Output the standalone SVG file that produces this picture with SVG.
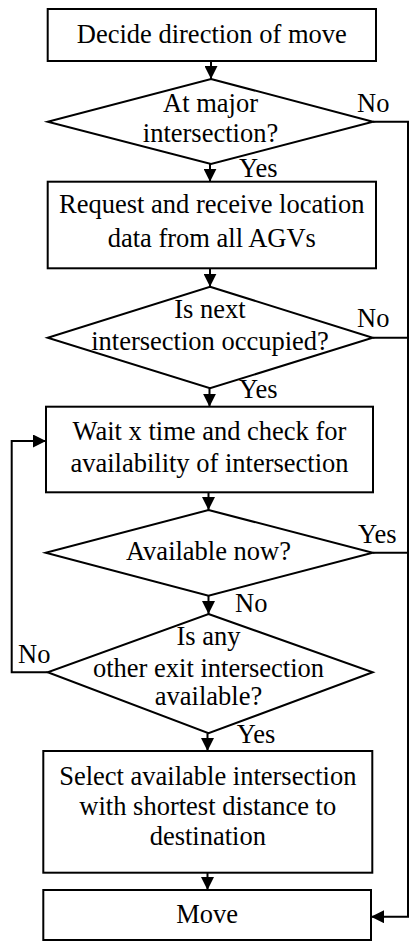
<svg xmlns="http://www.w3.org/2000/svg" width="411" height="943" viewBox="0 0 411 943">
<defs>
<marker id="ah" viewBox="0 0 10 10" refX="10" refY="5" markerWidth="6.5" markerHeight="6.5" markerUnits="strokeWidth" orient="auto">
<path d="M0,0 L10,5 L0,10 Z" fill="#000"/>
</marker>
<style>
.s{fill:#fff;stroke:#000;stroke-width:2}
.t{font-family:"Liberation Serif","Times New Roman",serif;font-size:26.5px;fill:#000;text-anchor:middle}
.l{font-family:"Liberation Serif","Times New Roman",serif;font-size:26.5px;fill:#000}
.c{fill:none;stroke:#000;stroke-width:2}
</style>
</defs>
<rect width="411" height="943" fill="#fff"/>
<g id="connectors">
<line class="c" x1="211" y1="61" x2="211" y2="79" marker-end="url(#ah)"/>
<line class="c" x1="210" y1="164" x2="210" y2="181.7" marker-end="url(#ah)"/>
<line class="c" x1="210" y1="268.3" x2="210" y2="286.7" marker-end="url(#ah)"/>
<line class="c" x1="209.5" y1="388.3" x2="209.5" y2="406.7" marker-end="url(#ah)"/>
<line class="c" x1="208.5" y1="492.3" x2="208.5" y2="510" marker-end="url(#ah)"/>
<line class="c" x1="208.5" y1="595.7" x2="208.5" y2="614" marker-end="url(#ah)"/>
<line class="c" x1="207.5" y1="733.3" x2="207.5" y2="751" marker-end="url(#ah)"/>
<line class="c" x1="207.5" y1="872.7" x2="207.5" y2="890" marker-end="url(#ah)"/>
<polyline class="c" points="373,121.7 408,121.7 408,916.7 371,916.7" marker-end="url(#ah)"/>
<line class="c" x1="372.7" y1="337.7" x2="408" y2="337.7"/>
<line class="c" x1="372.7" y1="552.7" x2="408" y2="552.7"/>
<polyline class="c" points="47.7,672.3 11.7,672.3 11.7,441 46,441" marker-end="url(#ah)"/>
<text class="l" x="357" y="112">No</text>
<text class="l" x="239" y="176.7">Yes</text>
<text class="l" x="357" y="326.7">No</text>
<text class="l" x="239" y="398.3">Yes</text>
<text class="l" x="358" y="543.3">Yes</text>
<text class="l" x="235" y="611.7">No</text>
<text class="l" x="18" y="663.3">No</text>
<text class="l" x="236.7" y="743.3">Yes</text>
</g>
<g id="n1">
<rect class="s" x="47.7" y="9" width="328.3" height="52"/>
<text class="t" x="211.8" y="43.3">Decide direction of move</text>
</g>
<g id="n2">
<polygon class="s" points="211,79 373,121.7 211,164 47.7,121.7"/>
<text class="t" x="210.5" y="111.7">At major</text>
<text class="t" x="210.5" y="142">intersection?</text>
</g>
<g id="n3">
<rect class="s" x="47.7" y="181.7" width="328.3" height="86.6"/>
<text class="t" x="211.8" y="213.3">Request and receive location</text>
<text class="t" x="211.8" y="246.7">data from all AGVs</text>
</g>
<g id="n4">
<polygon class="s" points="210,286.7 372.7,337.7 210,388.3 47.7,337.7"/>
<text class="t" x="210" y="318.3">Is next</text>
<text class="t" x="210" y="350">intersection occupied?</text>
</g>
<g id="n5">
<rect class="s" x="46" y="406.7" width="327" height="85.6"/>
<text class="t" x="209.5" y="440">Wait x time and check for</text>
<text class="t" x="209.5" y="471.7">availability of intersection</text>
</g>
<g id="n6">
<polygon class="s" points="208.5,510 372.7,552.7 208.5,595.7 45.7,552.7"/>
<text class="t" x="208.5" y="560">Available now?</text>
</g>
<g id="n7">
<polygon class="s" points="208.5,614 372.7,672.3 208.5,733.3 47.7,672.3"/>
<text class="t" x="208.5" y="645">Is any</text>
<text class="t" x="208.5" y="676.7">other exit intersection</text>
<text class="t" x="208.5" y="705">available?</text>
</g>
<g id="n8">
<rect class="s" x="43.3" y="751" width="329" height="121.7"/>
<text class="t" x="207.8" y="785">Select available intersection</text>
<text class="t" x="207.8" y="815">with shortest distance to</text>
<text class="t" x="207.8" y="845">destination</text>
</g>
<g id="n9">
<rect class="s" x="43.3" y="890" width="327.7" height="50"/>
<text class="t" x="207.2" y="923.3">Move</text>
</g>
</svg>
